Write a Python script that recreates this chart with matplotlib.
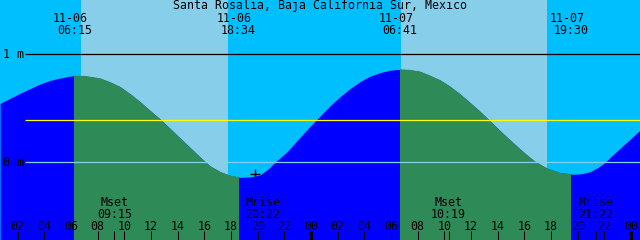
import matplotlib
matplotlib.use('Agg')
import matplotlib.pyplot as plt
import matplotlib.transforms as mtransforms

title = "Santa Rosalia, Baja California Sur, Mexico"

# hours after 11-06 00:00 and tide height (m)
hours = [0.68, 1.43, 2.18, 2.93, 3.68, 4.43, 5.18, 5.93, 6.30, 7.05,
         8.18, 8.93, 9.68, 10.43, 11.18, 11.93, 12.68, 13.43, 14.18, 14.93,
         15.68, 16.43, 17.18, 17.93, 18.68, 19.43, 20.18, 20.78, 21.30, 22.20,
         23.18, 23.93, 24.68, 25.43, 26.18, 26.93, 27.68, 28.43, 29.18, 29.93,
         30.68, 31.43, 32.18, 32.93, 33.68, 34.43, 35.18, 35.93, 36.68, 37.43,
         38.18, 38.93, 39.68, 40.28, 40.80, 41.70, 42.68, 43.65, 44.33, 44.93,
         45.53, 46.05, 46.58, 47.18, 47.93, 48.68]
heights = [0.543, 0.590, 0.636, 0.680, 0.722, 0.755, 0.777, 0.795, 0.800, 0.797,
           0.775, 0.740, 0.697, 0.631, 0.558, 0.477, 0.398, 0.310, 0.222, 0.134,
           0.046, -0.037, -0.090, -0.125, -0.142, -0.138, -0.120, -0.065, -0.003, 0.095,
           0.229, 0.330, 0.426, 0.520, 0.605, 0.680, 0.744, 0.795, 0.827, 0.850,
           0.858, 0.853, 0.838, 0.800, 0.759, 0.700, 0.630, 0.550, 0.468, 0.380,
           0.290, 0.204, 0.120, 0.056, 0.005, -0.058, -0.099, -0.114, -0.108, -0.090,
           -0.050, -0.003, 0.060, 0.127, 0.210, 0.296]

sun_dates = ["11-06", "11-06", "11-07", "11-07"]
sun_times = ["06:15", "18:34", "06:41", "19:30"]
sun_hours = [6.25, 18.567, 30.683, 43.5]
sky_day = [(6.75, 17.78), (30.75, 41.70)]

moon_labels = ["Mset", "Mrise", "Mset", "Mrise"]
moon_times = ["09:15", "20:22", "10:19", "21:22"]
moon_hours = [9.25, 20.367, 34.317, 45.367]

tick_hours = list(range(2, 49, 2))
tick_labels = ["%02d" % (h % 24) for h in tick_hours]

level_values = [1.0, 0.389, 0.0]
level_colors = ["black", "#FFFF00", "#87CEEB"]
level_labels = ["1 m", None, "0 m"]
now_hour, now_height = 19.8, -0.114

X0, X1 = 0.675, 48.675
Y0, Y1 = -0.7222, 1.5

fig = plt.figure(figsize=(6.4, 2.4), dpi=100)
ax = fig.add_axes([0, 0, 1, 1])
ax.set_xlim(X0, X1)
ax.set_ylim(Y0, Y1)
ax.axis('off')

# sky
ax.axvspan(X0, X1, color='#00BFFF', lw=0, zorder=0)
for a, b in sky_day:
    ax.axvspan(a, b, color='#87CEEB', lw=0, zorder=0)

# water
poly = ax.fill_between(hours, heights, Y0 - 0.1, color='#0000FF', lw=0, zorder=1)
path = poly.get_paths()[0]
for a, b in [(sun_hours[0], sun_hours[1]), (sun_hours[2], sun_hours[3])]:
    sp = ax.axvspan(a, b, color='#2E8B57', lw=0, zorder=2)
    sp.set_clip_path(path, ax.transData)

# level lines
line_start = 2.55
for v, c in zip(level_values, level_colors):
    ax.hlines(v, line_start, X1, color=c, lw=0.9, zorder=3)

font = dict(family='DejaVu Sans Mono', size=8.4)
trans = mtransforms.blended_transform_factory(ax.transData, ax.transAxes)
trans_y = mtransforms.blended_transform_factory(ax.transAxes, ax.transData)

def fy(ypix):
    return 1 - ypix / 240.0

for v, lab in zip(level_values, level_labels):
    if lab:
        ax.text(0.004, v, lab, ha='left', va='center', transform=trans_y, zorder=5, **font)

ax.text(0.5, fy(9), title, ha='center', va='baseline', transform=ax.transAxes, zorder=5, **font)

for d, t, h in zip(sun_dates, sun_times, sun_hours):
    ax.text(h - 0.3, fy(22), d, ha='center', va='baseline', transform=trans, zorder=5, **font)
    ax.text(h, fy(34), t, ha='center', va='baseline', transform=trans, zorder=5, **font)

for l, t, h in zip(moon_labels, moon_times, moon_hours):
    ax.text(h, fy(206), l, ha='center', va='baseline', transform=trans, zorder=5, **font)
    ax.text(h, fy(218), t, ha='center', va='baseline', transform=trans, zorder=5, **font)

for h, lab in zip(tick_hours, tick_labels):
    ax.text(h, fy(230), lab, ha='center', va='baseline', transform=trans, zorder=5, **font)
    lw = 2.2 if h % 24 == 0 else 0.75
    ax.vlines(h, 0, 9 / 240.0, color='black', lw=lw, transform=trans, zorder=5)

for h in moon_hours:
    ax.vlines(h, 0, 9 / 240.0, color='black', lw=0.75, transform=trans, zorder=5)

ax.plot([now_hour], [now_height], marker='+', color='black', ms=6.5, mew=1.0, zorder=6)

fig.savefig('out.png', dpi=100)
